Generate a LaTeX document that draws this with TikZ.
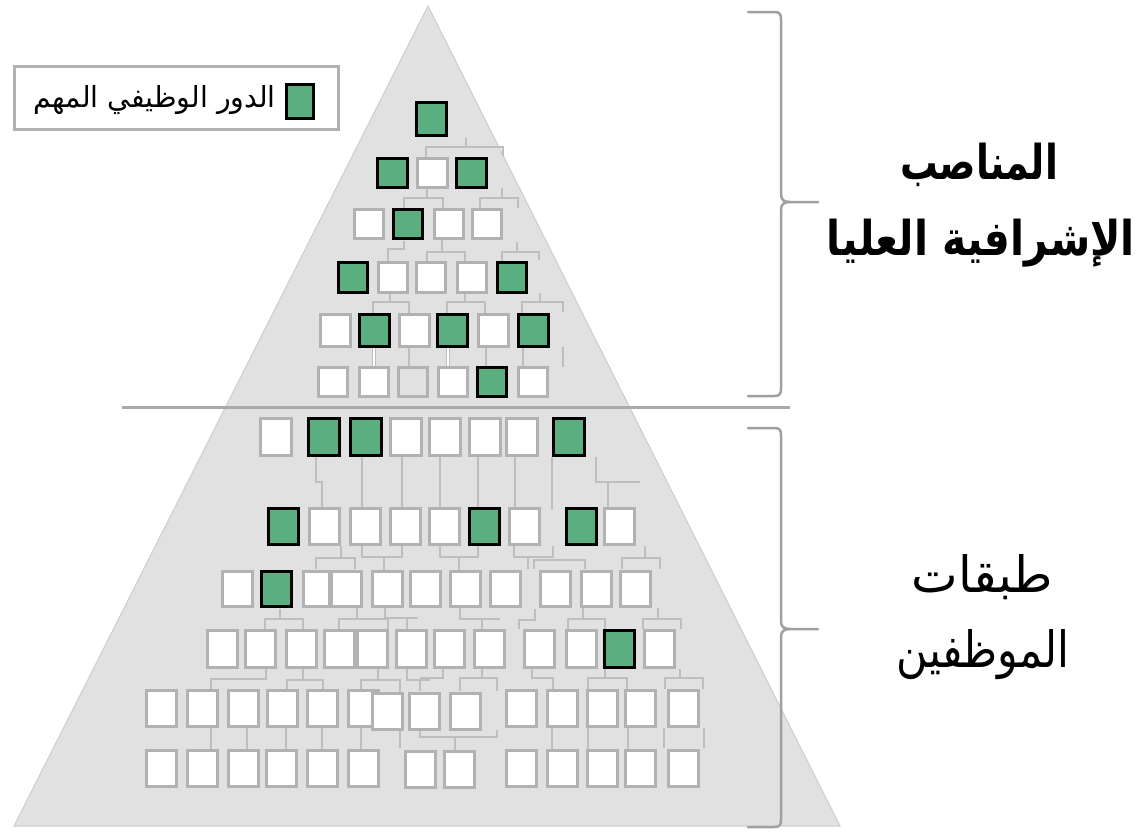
\documentclass[tikz,border=0pt]{standalone}
\usepackage{fontspec}
\usepackage{graphicx}
\TeXXeTstate=1
\newfontfamily\arabicfont[Script=Arabic]{DejaVu Sans}
\definecolor{bggray}{RGB}{225,225,225}
\definecolor{tribord}{RGB}{205,205,205}
\definecolor{boxgray}{RGB}{178,178,178}
\definecolor{lingray}{RGB}{190,190,190}
\definecolor{brgray}{RGB}{160,160,160}
\definecolor{divgray}{RGB}{170,170,170}
\definecolor{greenf}{RGB}{91,174,128}
\newcommand\brow[5]{%
  \foreach \bx/\bt [count=\bi] in {#5} {%
    \node[\bt, minimum width=#3pt-3pt, minimum height=#4pt-3pt] (r#1b\bi) at (\bx+1.5,#2+1.5) {};}}
\newcommand\fitw[2]{\resizebox{#1}{\height}{#2}}
\begin{document}
\begin{tikzpicture}[x=1pt,y=-1pt,
  boxbase/.style={inner sep=0pt, outer sep=0pt, anchor=north west, line width=3pt},
  gb/.style={boxbase, draw=black, fill=greenf},
  wb/.style={boxbase, draw=boxgray, fill=white},
  eb/.style={boxbase, draw=boxgray, fill=bggray},
  conn/.style={draw=lingray, line width=2.5pt},
  wconn/.style={draw=white, line width=2pt},
  brace/.style={draw=brgray, line width=2.5pt, line join=round, line cap=round},
  biglabel/.style={font=\arabicfont\fontsize{50}{60}\selectfont, inner sep=0pt},
  boldlabel/.style={font=\arabicfont\bfseries\fontsize{48}{58}\selectfont, inner sep=0pt}]
\useasboundingbox (0,0) rectangle (1146,831);
% pyramid
\filldraw[fill=bggray, draw=tribord, line width=1pt] (428,6) -- (840,826) -- (14,826) -- cycle;
\draw[draw=divgray, line width=3pt] (122,407) -- (790,407);
% ---- connectors, upper part
\draw[conn] (466,138) -- (466,147);
\draw[conn] (426,157) -- (426,147) -- (503,147) -- (503,156);
\draw[conn] (427,189) -- (427,198);
\draw[conn] (404,208) -- (404,198) -- (443,198) -- (443,208);
\draw[conn] (502,188) -- (502,198);
\draw[conn] (480,208) -- (480,198) -- (518,198) -- (518,208);
\draw[conn] (404,241) -- (404,249) -- (388,249) -- (388,261);
\draw[conn] (442,240) -- (442,252);
\draw[conn] (427,261) -- (427,252) -- (465,252) -- (465,261);
\draw[conn] (517,242) -- (517,252);
\draw[conn] (502,261) -- (502,252) -- (539,252) -- (539,260);
\draw[conn] (390,294) -- (390,302);
\draw[conn] (373,313) -- (373,302) -- (409,302) -- (409,313);
\draw[conn] (465,294) -- (465,302);
\draw[conn] (447,313) -- (447,302) -- (485,302) -- (485,313);
\draw[conn] (540,293) -- (540,302);
\draw[conn] (522,313) -- (522,302) -- (563,302) -- (563,312);
\draw[draw=lingray, line width=4.5pt] (374,348) -- (374,366) (448,348) -- (448,366);
\draw[wconn] (374,348) -- (374,366) (448,348) -- (448,366);
\draw[conn] (409,348) -- (409,366) (486,348) -- (486,366) (523,348) -- (523,366) (563,347) -- (563,367);
% ---- connectors, lower part
\draw[conn] (316,457) -- (316,482) -- (322,482) -- (322,507);
\draw[conn] (362,457) -- (362,507) (402,457) -- (402,507) (440,457) -- (440,507)
  (478,457) -- (478,508) (515,457) -- (515,507) (552,457) -- (552,510);
\draw[conn] (596,457) -- (596,482) -- (640,482);
\draw[conn] (608,482) -- (608,507);
\draw[conn] (341,546) -- (341,558);
\draw[conn] (316,569) -- (316,558) -- (355,558) -- (355,569);
\draw[conn] (362,546) -- (362,557) -- (402,557) -- (402,546);
\draw[conn] (384,557) -- (384,570);
\draw[conn] (440,546) -- (440,557) -- (478,557) -- (478,546);
\draw[conn] (459,557) -- (459,570);
\draw[conn] (514,546) -- (514,557) -- (553,557) -- (553,546);
\draw[conn] (528,557) -- (528,569);
\draw[conn] (534,569) -- (534,560) -- (585,560) -- (585,569);
\draw[conn] (645,546) -- (645,558);
\draw[conn] (622,569) -- (622,558) -- (660,558) -- (660,569);
\draw[conn] (280,609) -- (280,619);
\draw[conn] (265,629) -- (265,619) -- (303,619) -- (303,629);
\draw[conn] (357,608) -- (357,619);
\draw[conn] (339,629) -- (339,619) -- (388,619) -- (388,629);
\draw[conn] (385,608) -- (385,618) -- (418,618);
\draw[conn] (407,618) -- (407,629);
\draw[conn] (460,608) -- (460,619) -- (500,619);
\draw[conn] (482,619) -- (482,629);
\draw[conn] (535,609) -- (535,620) -- (519,620) -- (519,629);
\draw[conn] (583,608) -- (583,619);
\draw[conn] (568,629) -- (568,619) -- (605,619) -- (605,629);
\draw[conn] (658,608) -- (658,619);
\draw[conn] (643,629) -- (643,619) -- (681,619) -- (681,629);
\draw[conn] (266,669) -- (266,679) -- (211,679) -- (211,689);
\draw[conn] (303,669) -- (303,680);
\draw[conn] (287,689) -- (287,680) -- (323,680) -- (323,689);
\draw[conn] (378,669) -- (378,680);
\draw[conn] (361,689) -- (361,680) -- (400,680) -- (400,748);
\draw[conn] (407,669) -- (407,680) -- (430,680);
\draw[conn] (420,680) -- (420,691);
\draw[conn] (443,668) -- (443,678) -- (420,678);
\draw[conn] (482,669) -- (482,678);
\draw[conn] (460,691) -- (460,678) -- (497,678) -- (497,691);
\draw[conn] (532,669) -- (532,678) -- (553,678) -- (553,689);
\draw[conn] (605,669) -- (605,678);
\draw[conn] (588,689) -- (588,678) -- (627,678) -- (627,689);
\draw[conn] (680,669) -- (680,678);
\draw[conn] (665,689) -- (665,678) -- (703,678) -- (703,689);
\draw[conn] (211,728) -- (211,749) (247,728) -- (247,749) (286,728) -- (286,749)
  (322,728) -- (322,749) (361,728) -- (361,749);
\draw[conn] (420,730) -- (420,737) -- (497,737) -- (497,730);
\draw[conn] (455,737) -- (455,750);
\draw[conn] (552,728) -- (552,750) (588,728) -- (588,750) (628,728) -- (628,750)
  (664,728) -- (664,748) (704,728) -- (704,748);
% ---- boxes, upper part
\brow{1}{101}{33}{36}{415/gb}
\brow{2}{157}{33}{32}{376/gb,416/wb,455/gb}
\brow{3}{208}{32}{32}{353/wb,392/gb,433/wb,471/wb}
\brow{4}{261}{32}{33}{337/gb,377/wb,415/wb,456/wb,496/gb}
\brow{5}{313}{33}{35}{319/wb,358/gb,398/wb,436/gb,477/wb,517/gb}
\brow{6}{366}{32}{32}{317/wb,358/wb,397/eb,437/wb,476/gb,517/wb}
% ---- boxes, lower part
\brow{7}{417}{34}{40}{259/wb,307/gb,349/gb,389/wb,428/wb,468/wb,505/wb,552/gb}
\brow{8}{507}{33}{39}{267/gb,308/wb,349/wb,389/wb,428/wb,468/gb,508/wb,565/gb,603/wb}
\brow{9}{570}{33}{38}{221/wb,260/gb,330/wb,371/wb,409/wb,449/wb,489/wb,539/wb,580/wb,619/wb}
\node[wb, minimum width=26pt, minimum height=35pt] (r9c) at (303.5,571.5) {};
\brow{10}{629}{33}{40}{206/wb,244/wb,285/wb,323/wb,356/wb,395/wb,433/wb,473/wb,523/wb,565/wb,603/gb,643/wb}
\brow{11}{689}{33}{39}{145/wb,186/wb,227/wb,266/wb,306/wb,347/wb}
\brow{11m}{692}{33}{39}{371/wb,408/wb,449/wb}
\brow{11r}{689}{33}{39}{505/wb,546/wb,586/wb,624/wb,667/wb}
\brow{12}{749}{33}{39}{145/wb,186/wb,227/wb,265/wb,306/wb,347/wb}
\brow{12m}{750}{33}{39}{404/wb,443/wb}
\brow{12r}{749}{33}{39}{505/wb,546/wb,586/wb,624/wb,667/wb}
% ---- legend
\node[boxbase, draw=boxgray, fill=white, minimum width=324pt, minimum height=63pt] (legend) at (14.5,66.5) {};
\node[gb, minimum width=27pt, minimum height=34pt] (legsq) at (286.5,84.5) {};
\node[anchor=east, inner sep=0pt, font=\arabicfont\fontsize{29}{33}\selectfont] (legtxt) at (276,100) {\fitw{242pt}{\beginR الدور الوظيفي المهم\endR}};
% ---- braces
\draw[brace] (748,12) -- (774,12) .. controls (780,12) and (781,14) .. (781,20) -- (781,194)
  .. controls (781,200) and (784,202) .. (790,202) -- (818,202);
\draw[brace] (790,202) .. controls (784,202) and (781,204) .. (781,210) -- (781,388)
  .. controls (781,394) and (780,396) .. (774,396) -- (748,396);
\draw[brace] (748,428) -- (774,428) .. controls (780,428) and (781,430) .. (781,436) -- (781,621)
  .. controls (781,627) and (784,629) .. (790,629) -- (818,629);
\draw[brace] (790,629) .. controls (784,629) and (781,631) .. (781,637) -- (781,819)
  .. controls (781,825) and (780,827) .. (774,827) -- (748,827);
% ---- labels
\node[boldlabel] (top1) at (979,165) {\fitw{158pt}{\beginR المناصب\endR}};
\node[boldlabel] (top2) at (981,243) {\fitw{308pt}{\beginR الإشرافية العليا\endR}};
\node[biglabel] (bot1) at (982,577) {\fitw{141pt}{\beginR طبقات\endR}};
\node[biglabel] (bot2) at (983,655) {\fitw{173pt}{\beginR الموظفين\endR}};
\end{tikzpicture}
\end{document}
